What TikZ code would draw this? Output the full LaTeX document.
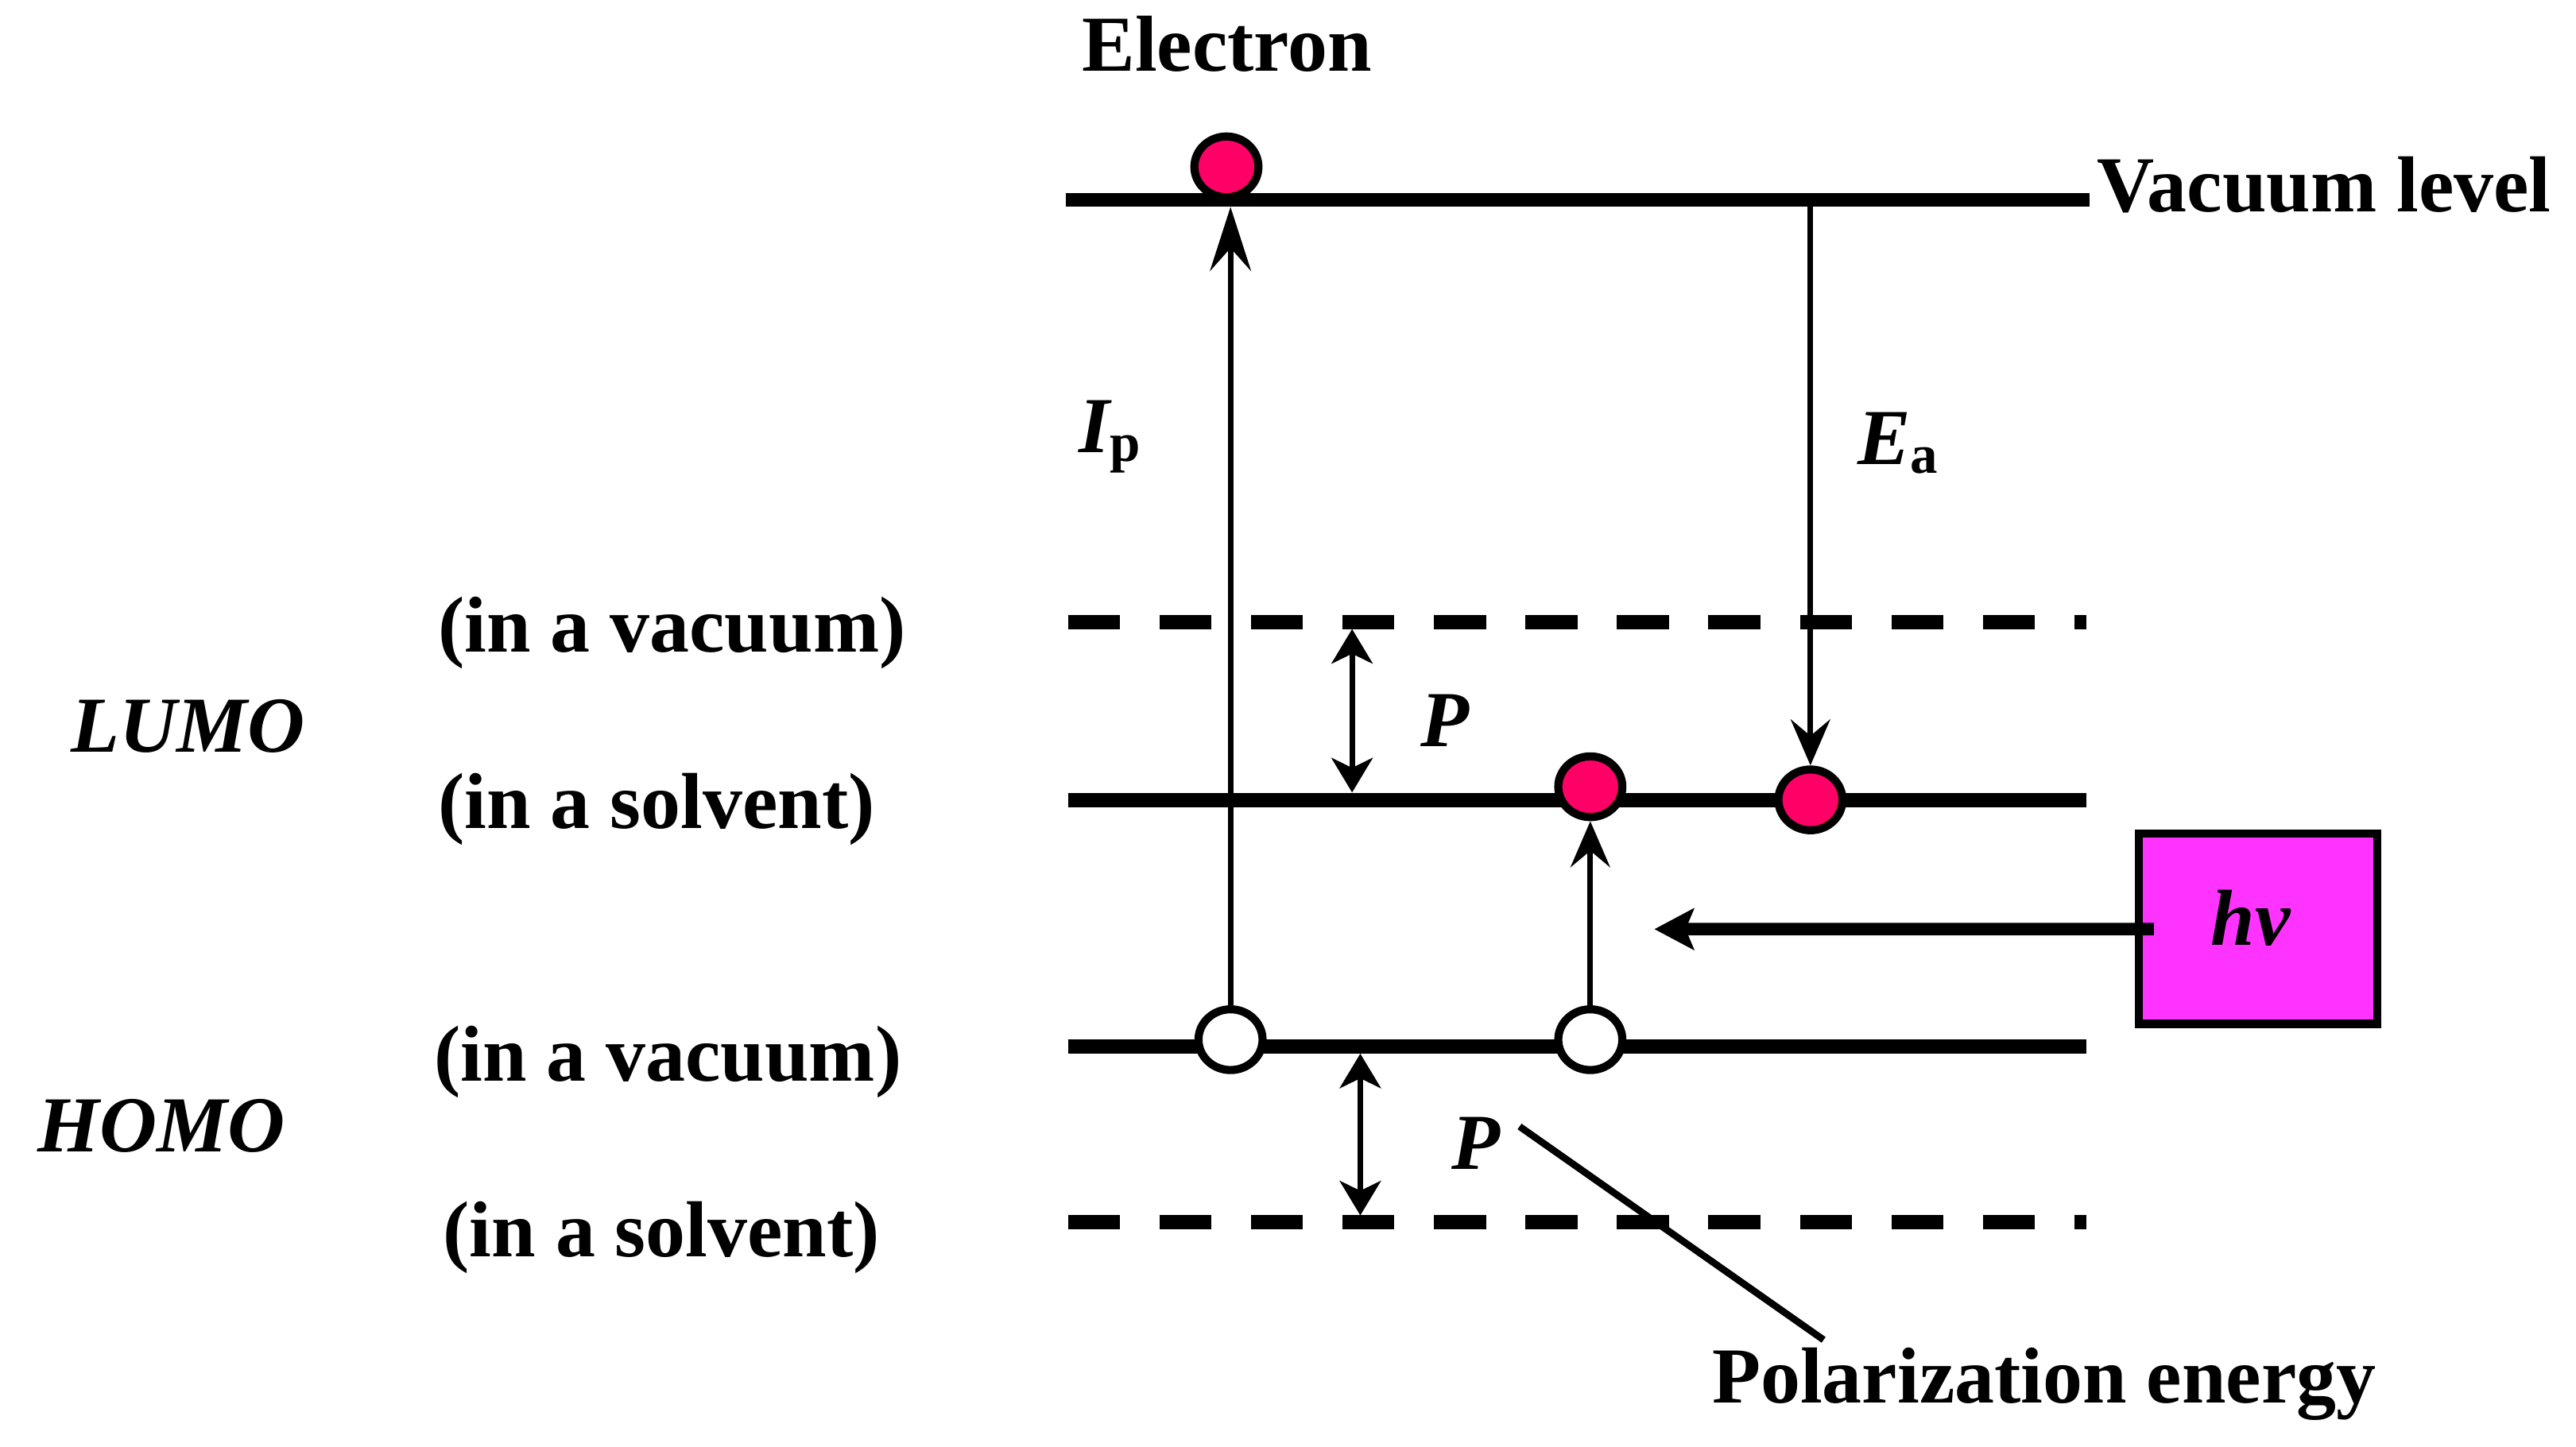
\documentclass[tikz,border=0pt]{standalone}
\usepackage{fontspec}
\setmainfont{Liberation Serif}
\usetikzlibrary{arrows.meta,shapes.geometric,calc}
\definecolor{elec}{RGB}{255,0,102}
\definecolor{photon}{RGB}{255,51,255}
\newcommand{\lblsz}{\fontsize{13.75}{16}\selectfont\bfseries}
\newcommand{\subsz}{\fontsize{9.5}{11}\selectfont\bfseries\upshape}
\tikzset{
  lbl/.style={font=\lblsz, inner sep=0pt, anchor=base west},
  ilbl/.style={lbl, font=\lblsz\itshape},
  level/.style={line width=2.45pt},
  dlevel/.style={level, dash pattern=on 3.17mm off 2.4mm},
  elc/.style={ellipse, draw, line width=1.4pt, fill=elec, minimum width=3.9mm,
              minimum height=3.7mm, inner sep=0pt},
  hole/.style={elc, fill=white},
  jump/.style={-{Stealth[length=2.8mm, width=2.4mm, inset=1mm]}, line width=1pt},
  pgap/.style={{Stealth[length=2.1mm, width=2.5mm, inset=0.6mm]}-{Stealth[length=2.1mm, width=2.5mm, inset=0.6mm]},
               line width=1pt},
  light/.style={-{Stealth[length=2.4mm, width=2.5mm, inset=0.5mm]}, line width=2.15pt},
  lamp/.style={draw, line width=1.4pt, fill=photon, minimum width=14.5mm,
               minimum height=11.6mm, inner sep=0pt},
  leader/.style={line width=1.2pt},
}

\begin{document}
\begin{tikzpicture}
        \useasboundingbox (0,0) rectangle (15.68,-8.81);
        \draw[level]  (6.49,-1.217) -- (12.72,-1.217);
        \draw[dlevel] (6.50,-3.79)  -- (12.70,-3.79);
        \draw[level]  (6.50,-4.87)  -- (12.70,-4.87);
        \draw[level]  (6.50,-6.37)  -- (12.70,-6.37);
        \draw[dlevel] (6.50,-7.44)  -- (12.70,-7.44);
        \node[elc]  (e1) at (7.465,-1.016) {};
        \node[elc]  (e2) at (9.68,-4.79)   {};
        \node[elc]  (e3) at (11.02,-4.87)  {};
        \node[hole] (h1) at (7.49,-6.33)   {};
        \node[hole] (h2) at (9.68,-6.33)   {};
        \coordinate (ip) at (7.49,-1.26);
        \coordinate (ea) at (11.02,-1.26);
        \draw[jump, -{Stealth[length=3.9mm, width=2.5mm, inset=1.4mm]}] (h1.north) -- (ip);
        \draw[jump] (ea) -- (e3.north);
        \draw[jump] (h2.north) -- (e2.south);
        \coordinate (pl0) at (8.23,-3.83);
        \coordinate (pl1) at (8.23,-4.825);
        \coordinate (ph0) at (8.28,-6.415);
        \coordinate (ph1) at (8.28,-7.40);
        \draw[pgap] (pl0) -- (pl1);
        \draw[pgap] (ph0) -- (ph1);
        \node[lamp] (lamp) at (13.745,-5.654) {};
        \node[ilbl] (hv) at (13.45,-5.757) {hv};
        \coordinate (hvend) at (10.07,-5.657);
        \draw[light] ($(lamp.west)+(0.115,-0.003)$) -- (hvend);
        \node[lbl]  (el)   at (6.58,-0.435)  {Electron};
        \node[lbl]  (vl)   at (12.76,-1.29)  {Vacuum level};
        \node[ilbl] (ipl)  at (6.56,-2.754)  {I\raisebox{-1.6pt}{\subsz p}};
        \node[ilbl] (eal)  at (11.30,-2.83)  {E\raisebox{-1.5pt}{\subsz a}};
        \node[ilbl] (pa)   at (8.64,-4.546)  {P};
        \node[ilbl] (pb)   at (8.83,-7.117)  {P};
        \node[lbl]  (pe)   at (10.415,-8.54) {Polarization energy};
        \draw[leader] ($(pb.north east)+(0.11,-0.065)$) -- ($(pe.north west)+(0.685,0.04)$);
        \node[lbl]  (lvac) at (2.66,-3.97)   {(in a vacuum)};
        \node[ilbl] (lumo) at (0.426,-4.58)  {LUMO};
        \node[lbl]  (lsol) at (2.66,-5.045)  {(in a solvent)};
        \node[lbl]  (hvac) at (2.635,-6.58)  {(in a vacuum)};
        \node[ilbl] (homo) at (0.223,-7.012) {HOMO};
        \node[lbl]  (hsol) at (2.69,-7.65)   {(in a solvent)};
\end{tikzpicture}
\end{document}
